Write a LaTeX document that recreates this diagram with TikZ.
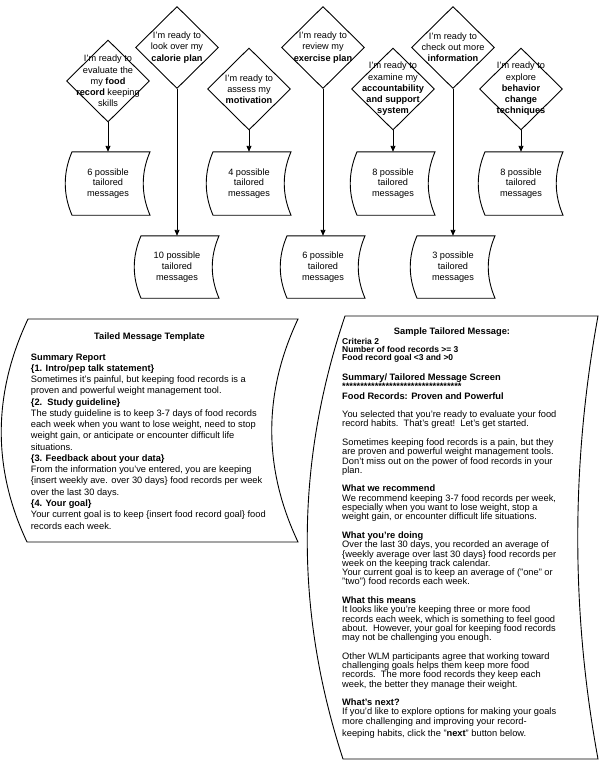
\documentclass[tikz,border=0pt]{standalone}
\usepackage{fontspec}
\setmainfont{Liberation Sans}
\usetikzlibrary{shapes.geometric,arrows.meta,calc}
\tikzset{
  shp/.style={draw=black, line width=0.9pt},
  arr/.style={draw=black, line width=0.9pt, -{Triangle[length=6pt,width=5pt]}},
  dia/.style={shape=diamond, draw=black, line width=0.9pt, minimum width=83pt, minimum height=82pt, inner sep=0pt},
  dtext/.style={align=center, inner sep=0pt, font=\fontsize{9.2}{11.2}\selectfont},
  btext/.style={align=center, inner sep=0pt, font=\fontsize{9.2}{10.8}\selectfont},
  tapeA/.style={minimum height=63pt, minimum width=2pt, inner sep=0pt},
  tapeB/.style={minimum height=62pt, minimum width=2pt, inner sep=0pt},
  para/.style={anchor=base west, inner sep=0pt},
}
\newcommand\tapeoutline[1]{%
  \draw[shp] ($(#1.north)+(-36,0)$) -- ($(#1.north)+(42,0)$)
    .. controls +(-9,21) and +(-9,-21) .. ($(#1.south)+(42,0)$)
    -- ($(#1.south)+(-36,0)$)
    .. controls +(-9,-21) and +(-9,21) .. ($(#1.north)+(-36,0)$) -- cycle;}
\begin{document}
\begin{tikzpicture}[x=1pt,y=-1pt]
\useasboundingbox (0,0) rectangle (600,766);
\fill[white] (0,0) rectangle (600,766);

% diamonds
\node[dia] (d1) at (108,81) {};
\node[dia] (d2) at (177,47.5) {};
\node[dia] (d3) at (249,89) {};
\node[dia] (d4) at (323,47.5) {};
\node[dia] (d5) at (393,89) {};
\node[dia] (d6) at (453,47.5) {};
\node[dia] (d7) at (521,89) {};

\node[dtext] (t1) at (d1.center) {I'm ready to\\evaluate the\\my \textbf{food}\\\textbf{record} keeping\\skills};
\node[dtext] (t2) at (d2.center) {I'm ready to\\look over my\\\textbf{calorie plan}};
\node[dtext] (t3) at (d3.center) {I'm ready to\\assess my\\\textbf{motivation}};
\node[dtext] (t4) at (d4.center) {I'm ready to\\review my\\\textbf{exercise plan}};
\node[dtext] (t5) at (d5.center) {I'm ready to\\examine my\\\textbf{accountability}\\\textbf{and support}\\\textbf{system}};
\node[dtext] (t6) at (d6.center) {I'm ready to\\check out more\\\textbf{information}};
\node[dtext] (t7) at (d7.center) {I'm ready to\\explore\\\textbf{behavior}\\\textbf{change}\\\textbf{techniques}};

% tailored message boxes
\node[tapeA] (b1) at (108,183.5) {};
\node[tapeA] (b3) at (249,183.5) {};
\node[tapeA] (b5) at (393,183.5) {};
\node[tapeA] (b7) at (521,183.5) {};
\node[tapeB] (b2) at (177,267) {};
\node[tapeB] (b4) at (323,267) {};
\node[tapeB] (b6) at (453,267) {};
\foreach \b in {b1,b2,b3,b4,b5,b6,b7}{\tapeoutline{\b}}

\node[btext] (m1) at (b1.center) {6 possible\\tailored\\messages};
\node[btext] (m3) at (b3.center) {4 possible\\tailored\\messages};
\node[btext] (m5) at (b5.center) {8 possible\\tailored\\messages};
\node[btext] (m7) at (b7.center) {8 possible\\tailored\\messages};
\node[btext] (m2) at (b2.center) {10 possible\\tailored\\messages};
\node[btext] (m4) at (b4.center) {6 possible\\tailored\\messages};
\node[btext] (m6) at (b6.center) {3 possible\\tailored\\messages};

% connectors
\foreach \i in {1,...,7}{\draw[arr] (d\i.south) -- (b\i.north);}

% left big sheet
\draw[shp] (28,319) -- (298,319)
  .. controls (263,393) and (263,468) .. (298,542)
  -- (27,542)
  .. controls (-8,468) and (-7,393) .. (28,319) -- cycle;
\node[anchor=base, inner sep=0pt, font=\fontsize{9.3}{11}\selectfont\bfseries] (lt) at (149.5,339) {Tailed Message Template};
\node[para] (lb) at (30.7,360) {\parbox[t]{300pt}{\raggedright\fontsize{9.3}{11.27}\selectfont
\textbf{Summary Report}\\
\textbf{\{1. Intro/pep talk statement\}}\\
Sometimes it's painful, but keeping food records is a\\
proven and powerful weight management tool.\\
\textbf{\{2.\ \ Study guideline\}}\\
The study guideline is to keep 3-7 days of food records\\
each week when you want to lose weight, need to stop\\
weight gain, or anticipate or encounter difficult life\\
situations.\\
\textbf{\{3. Feedback about your data\}}\\
From the information you've entered, you are keeping\\
\{insert weekly ave. over 30 days\} food records per week\\
over the last 30 days.\\
\textbf{\{4. Your goal\}}\\
Your current goal is to keep \{insert food record goal\} food\\
records each week.}};

% right big sheet
\draw[shp] (345,316) -- (598,316)
  .. controls (571,464) and (571,612) .. (598,759)
  -- (343,759)
  .. controls (295,612) and (295,464) .. (345,316) -- cycle;
\node[anchor=base, inner sep=0pt, font=\fontsize{9.3}{11}\selectfont\bfseries] (rt) at (452,334) {Sample Tailored Message:};
\node[para] (rc) at (342,344) {\parbox[t]{250pt}{\raggedright\fontsize{8.5}{8}\selectfont\bfseries
Criteria 2\\
Number of food records >= 3\\
Food record goal <3 and >0}};
\node[para] (rb) at (342,380.5) {\parbox[t]{260pt}{\raggedright\fontsize{9.3}{9.29}\selectfont
\textbf{Summary/ Tailored Message Screen}\\
\textbf{*********************************}\\
\textbf{Food Records: Proven and Powerful}\\[9.29pt]
You selected that you're ready to evaluate your food\\
record habits.\ \ That's great!\ \ Let's get started.\\[9.29pt]
Sometimes keeping food records is a pain, but they\\
are proven and powerful weight management tools.\\
Don't miss out on the power of food records in your\\
plan.\\[9.29pt]
\textbf{What we recommend}\\
We recommend keeping 3-7 food records per week,\\
especially when you want to lose weight, stop a\\
weight gain, or encounter difficult life situations.\\[9.29pt]
\textbf{What you're doing}\\
Over the last 30 days, you recorded an average of\\
\{weekly average over last 30 days\} food records per\\
week on the keeping track calendar.\\
Your current goal is to keep an average of ("one" or\\
"two") food records each week.\\[9.29pt]
\textbf{What this means}\\
It looks like you're keeping three or more food\\
records each week, which is something to feel good\\
about.\ \ However, your goal for keeping food records\\
may not be challenging you enough.\\[9.29pt]
Other WLM participants agree that working toward\\
challenging goals helps them keep more food\\
records.\ \ The more food records they keep each\\
week, the better they manage their weight.\\[9.29pt]
\textbf{What's next?}\\
If you'd like to explore options for making your goals\\
more challenging and improving your record-\\[3pt]
keeping habits, click the "\textbf{next}" button below.}};
\end{tikzpicture}
\end{document}
